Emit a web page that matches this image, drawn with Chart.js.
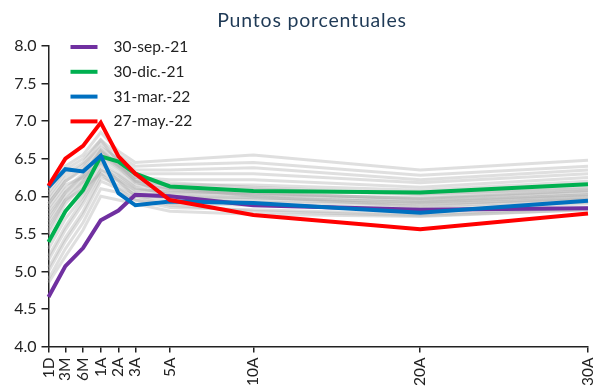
<!DOCTYPE html>
<html lang="es">
<head>
<meta charset="utf-8">
<title>Puntos porcentuales</title>
<script src="https://cdn.jsdelivr.net/npm/chart.js@4.4.0/dist/chart.umd.min.js"></script>
<style>
  html, body { margin: 0; padding: 0; background: #fff; }
  #wrap { width: 602px; height: 386px; }
</style>
</head>
<body>
<div id="wrap"><canvas id="curveChart" width="602" height="386"></canvas></div>
<script>
// Plazos y su posicion en el eje x
const tenors = ['1D', '3M', '6M', '1A', '2A', '3A', '5A', '10A', '20A', '30A'];
const tenorPos = [0, 1, 2.05, 3.1, 4.15, 5.15, 7.2, 12.15, 22.05, 32];

const chartTitle = 'Puntos porcentuales';
const yTicks = [4.0, 4.5, 5.0, 5.5, 6.0, 6.5, 7.0, 7.5, 8.0];

// Curvas destacadas
const seriesLabels = ['30-sep.-21', '30-dic.-21', '31-mar.-22', '27-may.-22'];
const sep21 = [4.66, 5.07, 5.31, 5.68, 5.81, 6.02, 6.00, 5.88, 5.82, 5.84];
const dic21 = [5.39, 5.80, 6.08, 6.53, 6.46, 6.30, 6.13, 6.07, 6.05, 6.16];
const mar22 = [6.12, 6.36, 6.33, 6.54, 6.04, 5.88, 5.93, 5.91, 5.78, 5.94];
const may22 = [6.14, 6.50, 6.67, 6.98, 6.53, 6.30, 5.95, 5.75, 5.56, 5.77];
const seriesColors = ['#7030A0', '#00B050', '#0070C0', '#FF0000'];

// Curvas historicas (fondo gris)
const hist01 = [6.10, 6.40, 6.55, 6.85, 6.60, 6.45, 6.48, 6.55, 6.35, 6.48];
const hist02 = [6.05, 6.35, 6.50, 6.75, 6.55, 6.40, 6.42, 6.45, 6.28, 6.40];
const hist03 = [5.95, 6.25, 6.42, 6.65, 6.50, 6.35, 6.35, 6.38, 6.22, 6.35];
const hist04 = [5.90, 6.20, 6.35, 6.60, 6.45, 6.30, 6.30, 6.30, 6.18, 6.30];
const hist05 = [5.80, 6.10, 6.30, 6.55, 6.40, 6.25, 6.22, 6.22, 6.12, 6.25];
const hist06 = [5.65, 6.00, 6.20, 6.50, 6.35, 6.20, 6.15, 6.15, 6.08, 6.20];
const hist07 = [5.50, 5.90, 6.15, 6.45, 6.30, 6.15, 6.10, 6.10, 6.02, 6.12];
const hist08 = [5.30, 5.70, 6.00, 6.35, 6.25, 6.10, 6.05, 6.02, 5.98, 6.08];
const hist09 = [5.15, 5.55, 5.90, 6.30, 6.20, 6.05, 6.00, 5.98, 5.92, 6.02];
const hist10 = [5.00, 5.40, 5.75, 6.20, 6.10, 6.00, 5.95, 5.92, 5.88, 5.98];
const hist11 = [4.90, 5.30, 5.65, 6.10, 6.05, 5.95, 5.90, 5.88, 5.84, 5.92];
const hist12 = [4.85, 5.20, 5.55, 6.00, 5.95, 5.90, 5.80, 5.76, 5.73, 5.82];
const hist13 = [5.60, 5.95, 6.10, 6.30, 6.10, 5.95, 5.85, 5.82, 5.76, 5.85];
const hist14 = [5.85, 6.15, 6.25, 6.45, 6.20, 6.00, 5.88, 5.80, 5.74, 5.82];
const hist15 = [6.00, 6.30, 6.45, 6.75, 6.45, 6.20, 6.00, 5.90, 5.80, 5.90];
const hist16 = [5.75, 6.05, 6.25, 6.60, 6.40, 6.22, 6.10, 6.05, 5.96, 6.05];
const hist17 = [5.40, 5.80, 6.05, 6.40, 6.28, 6.12, 6.02, 5.98, 5.92, 6.00];
const hist18 = [5.20, 5.60, 5.95, 6.35, 6.22, 6.08, 6.06, 6.04, 5.97, 6.07];
const hist19 = [5.55, 5.95, 6.20, 6.55, 6.38, 6.18, 6.08, 6.02, 5.94, 6.02];
const hist20 = [5.05, 5.45, 5.80, 6.25, 6.15, 6.02, 5.98, 5.95, 5.90, 5.96];
const hist21 = [5.70, 6.05, 6.28, 6.62, 6.42, 6.25, 6.18, 6.12, 6.03, 6.10];
const hist22 = [5.90, 6.20, 6.38, 6.70, 6.48, 6.28, 6.12, 6.00, 5.86, 5.96];
const histCurves = [hist01, hist02, hist03, hist04, hist05, hist06, hist07, hist08,
                    hist09, hist10, hist11, hist12, hist13, hist14, hist15, hist16,
                    hist17, hist18, hist19, hist20, hist21, hist22];

const FONT = 'Lato, "Open Sans", sans-serif';

const toPoints = (vals) => vals.map((v, i) => ({ x: tenorPos[i], y: v }));

const datasets = [];
[sep21, dic21, mar22, may22].forEach((vals, i) => {
    datasets.push({
        label: seriesLabels[i],
        data: toPoints(vals),
        borderColor: seriesColors[i],
        backgroundColor: seriesColors[i],
        borderWidth: 4,
        pointRadius: 0,
        tension: 0,
        clip: 4,
        order: 4 - i   // la ultima fecha queda encima
    });
});
histCurves.forEach((vals) => {
    datasets.push({
        label: '',
        data: toPoints(vals),
        borderColor: 'rgba(170,170,170,0.38)',
        borderWidth: 3,
        pointRadius: 0,
        tension: 0,
        clip: 4,
        order: 10
    });
});

// titulo arriba
const titlePlugin = {
    id: 'topTitle',
    afterDraw(chart) {
        const ctx = chart.ctx;
        ctx.save();
        ctx.font = '19.5px ' + FONT;
        ctx.letterSpacing = '0.8px';
        ctx.fillStyle = '#1f3a56';
        ctx.textAlign = 'center';
        ctx.textBaseline = 'alphabetic';
        ctx.fillText(chartTitle, 312, 26.7);
        ctx.restore();
    }
};

// leyenda dentro del area del grafico, arriba a la izquierda
const legendPlugin = {
    id: 'innerLegend',
    afterDraw(chart) {
        const ctx = chart.ctx;
        const left = chart.chartArea.left + 22;
        let y = chart.chartArea.top + 1;
        ctx.save();
        ctx.font = '15.5px ' + FONT;
        ctx.textBaseline = 'middle';
        chart.data.datasets.forEach((ds) => {
            if (!ds.label) return;
            ctx.strokeStyle = ds.borderColor;
            ctx.lineWidth = 4;
            ctx.beginPath();
            ctx.moveTo(left, y);
            ctx.lineTo(left + 27, y);
            ctx.stroke();
            ctx.fillStyle = '#222';
            ctx.fillText(ds.label, left + 43, y);
            y += 24.8;
        });
        ctx.restore();
    }
};

new Chart(document.getElementById('curveChart').getContext('2d'), {
    type: 'line',
    data: { datasets: datasets },
    options: {
        responsive: false,
        animation: false,
        devicePixelRatio: 1,
        layout: { padding: { top: 46, right: 14, left: 0, bottom: 0 } },
        plugins: {
            legend: { display: false },
            title: { display: false },
            tooltip: { enabled: false }
        },
        scales: {
            x: {
                type: 'linear',
                min: 0,
                max: 32,
                afterBuildTicks: (scale) => {
                    scale.ticks = tenorPos.map((p) => ({ value: p }));
                },
                afterFit: (scale) => {
                    scale.height = 39.5;
                    scale.paddingLeft = 0;
                    scale.paddingRight = 0;
                },
                ticks: {
                    autoSkip: false,
                    minRotation: 90,
                    maxRotation: 90,
                    padding: 5,
                    color: '#222',
                    font: { family: FONT, size: 15.5 },
                    callback: (value) => {
                        const idx = tenorPos.indexOf(value);
                        return idx >= 0 ? tenors[idx] : '';
                    }
                },
                grid: {
                    drawOnChartArea: false,
                    drawTicks: true,
                    tickLength: 6,
                    color: '#222',
                    lineWidth: 1.5
                },
                border: { color: '#222', width: 1.5 }
            },
            y: {
                min: 4,
                max: 8,
                afterBuildTicks: (scale) => {
                    scale.ticks = yTicks.map((v) => ({ value: v }));
                },
                afterFit: (scale) => { scale.width = 48.5; },
                ticks: {
                    padding: 5,
                    color: '#222',
                    font: { family: FONT, size: 16 },
                    callback: (value) => value.toFixed(1)
                },
                grid: {
                    drawOnChartArea: false,
                    drawTicks: true,
                    tickLength: 7,
                    color: '#222',
                    lineWidth: 1.5
                },
                border: { color: '#222', width: 1.5 }
            }
        }
    },
    plugins: [titlePlugin, legendPlugin]
});
</script>
</body>
</html>
